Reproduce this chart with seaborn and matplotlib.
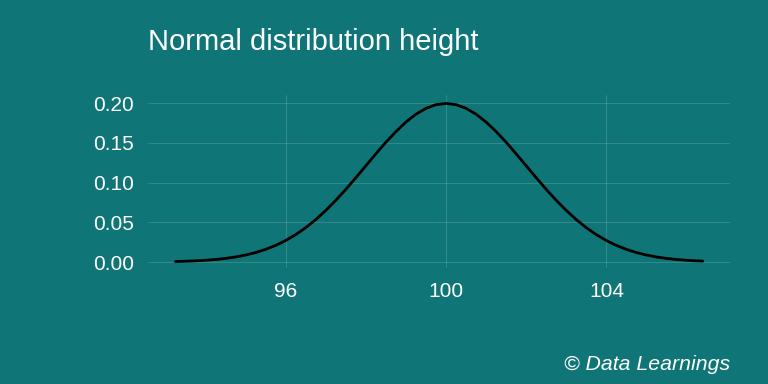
import matplotlib
matplotlib.use("Agg")
import matplotlib.pyplot as plt
import seaborn as sns
import pandas as pd

# density curve values (mean ~100, sd ~2)
height = [93.25, 93.5, 93.75, 94.0, 94.25, 94.5, 94.75, 95.0, 95.25, 95.5,
          95.75, 96.0, 96.25, 96.5, 96.75, 97.0, 97.25, 97.5, 97.75, 98.0,
          98.25, 98.5, 98.75, 99.0, 99.25, 99.5, 99.75, 100.0, 100.25, 100.5,
          100.75, 101.0, 101.25, 101.5, 101.75, 102.0, 102.25, 102.5, 102.75,
          103.0, 103.25, 103.5, 103.75, 104.0, 104.25, 104.5, 104.75, 105.0,
          105.25, 105.5, 105.75, 106.0, 106.25, 106.4]
density = [0.00067, 0.00101, 0.00151, 0.00222, 0.00320, 0.00454, 0.00636,
           0.00876, 0.01189, 0.01590, 0.02086, 0.02700, 0.03439, 0.04310,
           0.05327, 0.06480, 0.07751, 0.09130, 0.10594, 0.12100, 0.13603,
           0.15060, 0.16408, 0.17600, 0.18593, 0.19330, 0.19792, 0.19947,
           0.19792, 0.19330, 0.18593, 0.17600, 0.16408, 0.15060, 0.13603,
           0.12100, 0.10594, 0.09130, 0.07751, 0.06480, 0.05327, 0.04310,
           0.03439, 0.02700, 0.02086, 0.01590, 0.01189, 0.00876, 0.00636,
           0.00454, 0.00320, 0.00222, 0.00151, 0.00119]
x_ticks = [96, 100, 104]
y_ticks = [0.00, 0.05, 0.10, 0.15, 0.20]

df = pd.DataFrame({"height": height, "density": density})

bg = "#0F7577"
sns.set_theme(style="dark")
plt.rcParams["font.family"] = ["Liberation Sans", "DejaVu Sans"]

fig = plt.figure(figsize=(7.68, 3.84), dpi=100, facecolor=bg)
ax = fig.add_axes([148 / 768, 1 - 268 / 384, (730 - 148) / 768, (268 - 95) / 384])
ax.set_facecolor(bg)

sns.lineplot(data=df, x="height", y="density", color="black", linewidth=2.0, ax=ax)

ax.set_xlim(92.57, 107.08)
ax.set_ylim(-0.0075, 0.2101)
ax.set_xticks(x_ticks)
ax.set_xticklabels([str(t) for t in x_ticks])
ax.set_yticks(y_ticks)
ax.set_yticklabels([f"{t:.2f}" for t in y_ticks])
ax.grid(True, color="white", alpha=0.15, linewidth=0.7)
ax.tick_params(colors="white", labelsize=15, length=0, pad=10)
ax.set_xlabel("")
ax.set_ylabel("")
for s in ax.spines.values():
    s.set_visible(False)

fig.text(148 / 768, 1 - 42 / 384, "Normal distribution height", color="white",
         fontsize=21, ha="left", va="center")
fig.text(730 / 768, 1 - 365 / 384, "© Data Learnings", color="white",
         fontsize=15.3, style="italic", ha="right", va="center")

fig.savefig("out.png", dpi=100, facecolor=bg)
